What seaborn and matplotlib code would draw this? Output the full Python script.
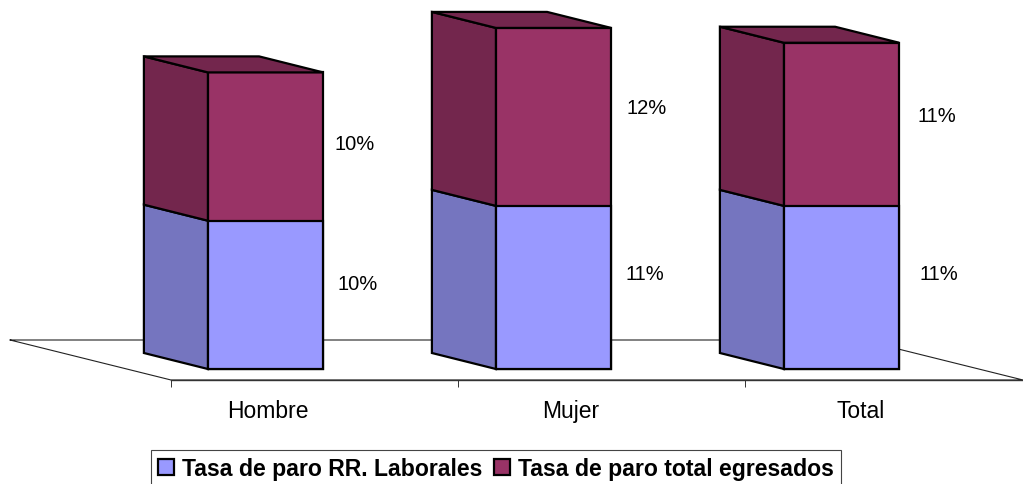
import numpy as np
import pandas as pd
import matplotlib
matplotlib.use('Agg')
import matplotlib.pyplot as plt
import seaborn as sns
from matplotlib.patches import Polygon

# data
categories = ['Hombre', 'Mujer', 'Total']
laborales = [10, 11, 11]
egresados = [10, 12, 11]
laborales_txt = ['10%', '11%', '11%']
egresados_txt = ['10%', '12%', '11%']
serie_a = 'Tasa de paro RR. Laborales'
serie_b = 'Tasa de paro total egresados'

# colours
blue, blue_dark = '#9999FF', '#7575BF'
red, red_dark = '#993366', '#73264D'

# 3d look, in data units (1 category = 288 px, 1% = 14.83 px)
px_x, px_y = 288, 14.83
base = 370
dx, dy = 64 / px_x, 16 / px_y
floor_front, floor_back = (base - 381) / px_y, (base - 341) / px_y

sns.set_theme(style='white')
plt.rcParams['font.family'] = ['Liberation Sans', 'DejaVu Sans']

df = pd.DataFrame({'cat': categories, 'a': laborales, 'b': egresados})
df['tot'] = df['a'] + df['b']

fig = plt.figure(figsize=(10.23, 4.85), dpi=100)
ax = fig.add_axes([0, 0, 1, 1])
ax.patch.set_alpha(0)

sns.barplot(data=df, x='cat', y='tot', color=red, saturation=1, width=0.4,
            edgecolor='black', linewidth=1.6, label=serie_b, ax=ax, zorder=3)
sns.barplot(data=df, x='cat', y='a', color=blue, saturation=1, width=0.4,
            edgecolor='black', linewidth=1.6, label=serie_a, ax=ax, zorder=3)

ax.set_xlim(-265.5 / px_x, (1023 - 265.5) / px_x)
ax.set_ylim((base - 485) / px_y, base / px_y)
ax.set_xlabel('')
ax.set_ylabel('')
ax.set_yticks([])


def face(pts, color):
    ax.add_patch(Polygon(pts, closed=True, facecolor=color, edgecolor='black',
                         linewidth=1.6, joinstyle='miter', zorder=3))


# side and top faces, built from the bar sizes
w = 0.4 / 2
for i in range(len(categories)):
    l, r = i - w, i + w
    a, t = laborales[i], laborales[i] + egresados[i]
    face([(l, 0), (l, a), (l - dx, a + dy), (l - dx, dy)], blue_dark)
    face([(l, a), (l, t), (l - dx, t + dy), (l - dx, a + dy)], red_dark)
    face([(l, t), (r, t), (r - dx, t + dy), (l - dx, t + dy)], red_dark)

# floor
x0, x1 = -0.328, ax.get_xlim()[1]
fdx = 161 / px_x
ax.plot([x0 - fdx, x0, x1, x1 - fdx, x0 - fdx],
        [floor_back, floor_front, floor_front, floor_back, floor_back],
        color='#222222', lw=0.8, zorder=1, clip_on=False)

# axis
for s in ['top', 'left', 'right']:
    ax.spines[s].set_visible(False)
ax.spines['bottom'].set_position(('data', floor_front))
ax.spines['bottom'].set_bounds(x0, x1)
ax.spines['bottom'].set_color('#333333')
ax.spines['bottom'].set_linewidth(1.0)
ax.set_xticks([x0, x0 + 0.996, x0 + 1.993])
ax.set_xticklabels([])
ax.tick_params(axis='x', which='major', length=5, width=0.7, color='#333333', bottom=True)
label_x = [(268 - 265.5) / px_x, (570.5 - 265.5) / px_x, (861 - 265.5) / px_x]
ax.set_xticks(label_x, minor=True)
ax.set_xticklabels(categories, minor=True, fontsize=16.5, color='black')
ax.tick_params(axis='x', which='minor', length=0, pad=14)

# value labels
lab_a = [(358, 285), (645, 274), (939, 274)]
lab_b = [(355, 145), (647, 108), (937, 116)]
for (px, py), s in zip(lab_a + lab_b, laborales_txt + egresados_txt):
    ax.text((px - 265.5) / px_x, (base - py) / px_y, s, ha='center', va='center',
            fontsize=14.5, color='black')

# legend
h, lab = ax.get_legend_handles_labels()
order = [lab.index(serie_a), lab.index(serie_b)]
leg = ax.legend([h[k] for k in order], [lab[k] for k in order], ncol=2,
                loc='upper left', bbox_to_anchor=(151 / 1023, 1 - 451 / 485),
                frameon=True, fancybox=False, edgecolor='#444444', framealpha=1,
                borderaxespad=0, borderpad=0.3, columnspacing=0.5, handlelength=0.7,
                handleheight=0.7, handletextpad=0.35, labelcolor='black',
                prop={'weight': 'bold', 'size': 16.6})
leg.get_frame().set_linewidth(0.8)

fig.savefig('out.png', dpi=100)
